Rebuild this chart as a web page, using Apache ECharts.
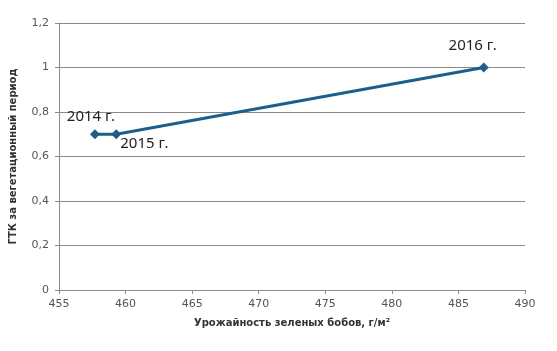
<!DOCTYPE html>
<html><head><meta charset="utf-8">
<script src="https://cdn.jsdelivr.net/npm/echarts@6/dist/echarts.min.js"></script>
<style>html,body{margin:0;padding:0;background:#fff}#c{width:557px;height:351px}</style>
</head><body><div id="c"></div>
<script>
const yields = [457.7, 459.3, 486.9];
const gtk = [0.7, 0.7, 1.0];
const years = ['2014 г.', '2015 г.', '2016 г.'];
const xName = 'Урожайность зеленых бобов, г/м²';
const yName = 'ГТК за вегетационный период';

const labelPos = [
  {position: 'top', offset: [-4, 0]},
  {position: 'right', offset: [-6, 9]},
  {position: 'top', offset: [-11, -4]}
];
const data = yields.map((x, i) => ({
  value: [x, gtk[i]],
  label: Object.assign({show: true, formatter: years[i]}, labelPos[i])
}));

const chart = echarts.init(document.getElementById('c'));
chart.setOption({
  animation: false,
  grid: {left: 57, right: 32, top: 23, bottom: 61},
  xAxis: {
    type: 'value', min: 455, max: 490, interval: 5,
    name: xName, nameLocation: 'middle', nameGap: 28,
    nameTextStyle: {fontFamily: 'DejaVu Sans', fontSize: 10, fontWeight: 'bold', color: '#333'},
    axisLine: {show: true, lineStyle: {color: '#8a8a8a'}},
    axisTick: {show: true, length: 4, lineStyle: {color: '#8a8a8a'}},
    axisLabel: {fontFamily: 'DejaVu Sans', fontSize: 11, color: '#555', margin: 9},
    splitLine: {show: false}
  },
  yAxis: {
    type: 'value', min: 0, max: 1.2, interval: 0.2,
    name: yName, nameLocation: 'middle', nameGap: 41,
    nameTextStyle: {fontFamily: 'DejaVu Sans', fontSize: 10, fontWeight: 'bold', color: '#333'},
    axisLine: {show: true, lineStyle: {color: '#8a8a8a'}},
    axisTick: {show: true, length: 4, lineStyle: {color: '#8a8a8a'}},
    axisLabel: {fontFamily: 'DejaVu Sans', fontSize: 11, color: '#555', margin: 10,
      formatter: v => String(Math.round(v * 10) / 10).replace('.', ',')},
    splitLine: {show: true, lineStyle: {color: '#8a8a8a', width: 1}}
  },
  series: [{
    type: 'line', data: data,
    symbol: 'diamond', symbolSize: 10,
    lineStyle: {color: '#1d5f8a', width: 3},
    itemStyle: {color: '#1d5f8a'},
    label: {fontFamily: 'Noto Sans', fontSize: 15, color: '#222'}
  }]
});
</script></body></html>
